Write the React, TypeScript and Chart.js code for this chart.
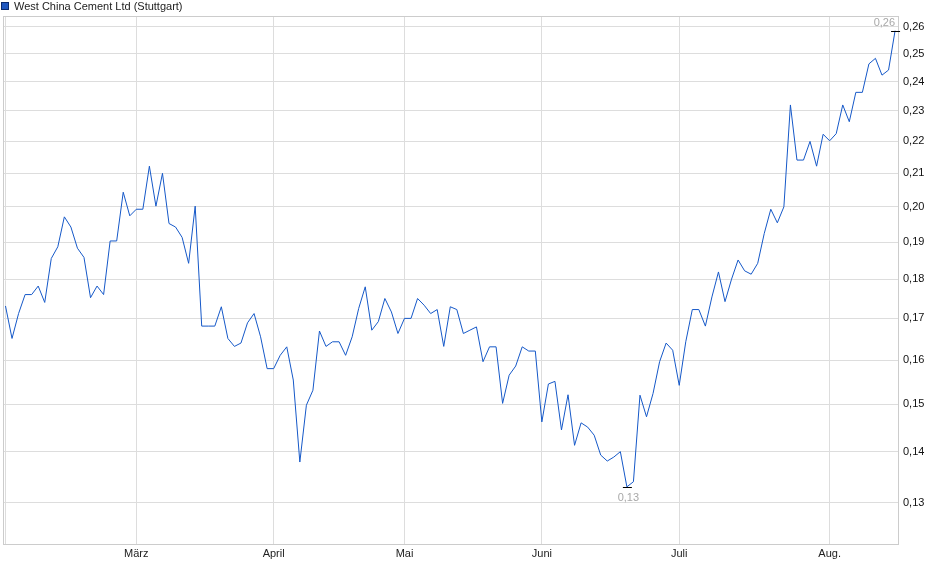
import React, { useEffect, useRef } from "react";
import { Chart, registerables } from "chart.js";

Chart.register(...registerables);

// Schlusskurse (EUR), ein Wert pro Handelstag
const prices: number[] = [
  0.1731, 0.1651, 0.1712, 0.1760, 0.1760, 0.1782, 0.1740, 0.1855, 0.1887, 0.1971,
  0.1942, 0.1883, 0.1858, 0.1752, 0.1782, 0.1760, 0.1903, 0.1903, 0.2043, 0.1974,
  0.1993, 0.1993, 0.2122, 0.2002, 0.2100, 0.1952, 0.1942, 0.1913, 0.1842, 0.2002,
  0.1681, 0.1681, 0.1681, 0.1729, 0.1651, 0.1632, 0.1640, 0.1689, 0.1712, 0.1655,
  0.1580, 0.1580, 0.1611, 0.1631, 0.1554, 0.1379, 0.1498, 0.1531, 0.1669, 0.1632,
  0.1643, 0.1643, 0.1611, 0.1655, 0.1725, 0.1780, 0.1671, 0.1692, 0.1750, 0.1716,
  0.1663, 0.1700, 0.1700, 0.1750, 0.1733, 0.1712, 0.1722, 0.1632, 0.1729, 0.1722,
  0.1663, 0.1671, 0.1679, 0.1596, 0.1631, 0.1631, 0.1502, 0.1565, 0.1586, 0.1631,
  0.1621, 0.1621, 0.1462, 0.1545, 0.1551, 0.1445, 0.1521, 0.1413, 0.1460, 0.1451,
  0.1434, 0.1393, 0.1381, 0.1389, 0.1400, 0.1330, 0.1340, 0.1520, 0.1473, 0.1524,
  0.1596, 0.1640, 0.1623, 0.1542, 0.1643, 0.1722, 0.1722, 0.1681, 0.1754, 0.1819,
  0.1742, 0.1800, 0.1851, 0.1822, 0.1813, 0.1842, 0.1924, 0.1993, 0.1954, 0.2000,
  0.2320, 0.2141, 0.2141, 0.2200, 0.2122, 0.2223, 0.2202, 0.2225, 0.2320, 0.2264,
  0.2363, 0.2363, 0.2463, 0.2483, 0.2423, 0.2441, 0.2585,
];

const monthLabels = ["März", "April", "Mai", "Juni", "Juli", "Aug."];
const monthStartIdx = [20, 41, 61, 82, 103, 126];

const yTicks = [0.13, 0.14, 0.15, 0.16, 0.17, 0.18, 0.19, 0.2, 0.21, 0.22, 0.23, 0.24, 0.25, 0.26];

const seriesName = "West China Cement Ltd (Stuttgart)";

const FONT = "'Liberation Sans', Arial, sans-serif";
const fmt = (v: number) => v.toFixed(2).replace(".", ",");

// Rahmen um den Plotbereich
const framePlugin = {
  id: "frame",
  beforeDatasetsDraw(chart: any) {
    const { ctx, chartArea: a } = chart;
    ctx.save();
    ctx.strokeStyle = "#cccccc";
    ctx.lineWidth = 1;
    ctx.strokeRect(Math.round(a.left) + 0.5, Math.round(a.top) + 0.5,
      Math.round(a.right - a.left) - 1, Math.round(a.bottom - a.top) - 1);
    ctx.restore();
  },
};

// Hoch/Tief-Markierung
const extremesPlugin = {
  id: "extremes",
  afterDatasetsDraw(chart: any) {
    const { ctx, chartArea } = chart;
    const meta = chart.getDatasetMeta(0);
    let hi = 0;
    let lo = 0;
    prices.forEach((v, i) => {
      if (v > prices[hi]) hi = i;
      if (v < prices[lo]) lo = i;
    });
    ctx.save();
    ctx.font = `11px ${FONT}`;
    ctx.textBaseline = "middle";
    const mark = (i: number, above: boolean) => {
      const p = meta.data[i];
      const y = Math.round(p.y) + 0.5;
      ctx.strokeStyle = "#000";
      ctx.lineWidth = 1;
      ctx.beginPath();
      ctx.moveTo(p.x - 4, y);
      ctx.lineTo(p.x + 5, y);
      ctx.stroke();
      ctx.fillStyle = "#a8a8a8";
      if (above) {
        const nearRight = p.x > chartArea.right - 25;
        ctx.textAlign = nearRight ? "right" : "center";
        ctx.fillText(fmt(prices[i]), nearRight ? p.x : p.x + 1, y - 8.5);
      } else {
        ctx.textAlign = "center";
        ctx.fillText(fmt(prices[i]), p.x + 1.5, y + 10);
      }
    };
    mark(hi, true);
    mark(lo, false);
    ctx.restore();
  },
};

export default function App() {
  const canvasRef = useRef<HTMLCanvasElement>(null);
  const chartRef = useRef<Chart | null>(null);

  useEffect(() => {
    document.body.style.margin = "0";
    if (!canvasRef.current) return;
    if (chartRef.current) chartRef.current.destroy();

    chartRef.current = new Chart(canvasRef.current, {
      type: "line",
      data: {
        datasets: [
          {
            label: seriesName,
            data: prices.map((v, i) => ({ x: i, y: v })),
            borderColor: "#1558c8",
            borderWidth: 1,
            pointRadius: 0,
            tension: 0,
            fill: false,
          },
        ],
      },
      options: {
        animation: false,
        responsive: false,
        maintainAspectRatio: false,
        layout: { padding: { left: 3, top: 16, right: 0, bottom: 0 } },
        plugins: {
          legend: { display: false },
          tooltip: { enabled: false },
        },
        scales: {
          x: {
            type: "linear",
            min: -0.38,
            max: 136.6,
            afterBuildTicks: (scale: any) => {
              scale.ticks = [0, ...monthStartIdx].map((v) => ({ value: v }));
            },
            afterFit: (scale: any) => {
              scale.height = 34;
            },
            ticks: {
              autoSkip: false,
              maxRotation: 0,
              padding: 2,
              color: "#222",
              font: { family: FONT, size: 11 },
              callback: (value: any) => {
                const k = monthStartIdx.indexOf(Number(value));
                return k >= 0 ? monthLabels[k] : "";
              },
            },
            grid: { color: "#dddddd", drawTicks: false },
            border: { display: false },
          },
          y: {
            type: "logarithmic",
            position: "right",
            min: 0.1222,
            max: 0.2641,
            afterBuildTicks: (scale: any) => {
              scale.ticks = yTicks.map((v) => ({ value: v }));
            },
            afterFit: (scale: any) => {
              scale.width = 41;
            },
            ticks: {
              padding: 4,
              color: "#111",
              font: { family: FONT, size: 11 },
              callback: (value: any) => fmt(Number(value)),
            },
            grid: { color: "#dddddd", drawTicks: false },
            border: { display: false },
          },
        },
      },
      plugins: [framePlugin, extremesPlugin],
    });

    return () => {
      if (chartRef.current) {
        chartRef.current.destroy();
        chartRef.current = null;
      }
    };
  }, []);

  return (
    <div style={{ position: "relative", width: 940, height: 579 }}>
      <canvas ref={canvasRef} width={940} height={579} style={{ display: "block" }} />
      <div
        style={{
          position: "absolute",
          left: 1,
          top: 0,
          height: 12,
          display: "flex",
          alignItems: "center",
          fontFamily: FONT,
          fontSize: 11,
          color: "#222",
          whiteSpace: "nowrap",
        }}
      >
        <span
          style={{
            display: "inline-block",
            width: 6,
            height: 6,
            background: "#1f57c0",
            border: "1px solid #0b2a6e",
            marginRight: 5,
          }}
        />
        {seriesName}
      </div>
    </div>
  );
}
